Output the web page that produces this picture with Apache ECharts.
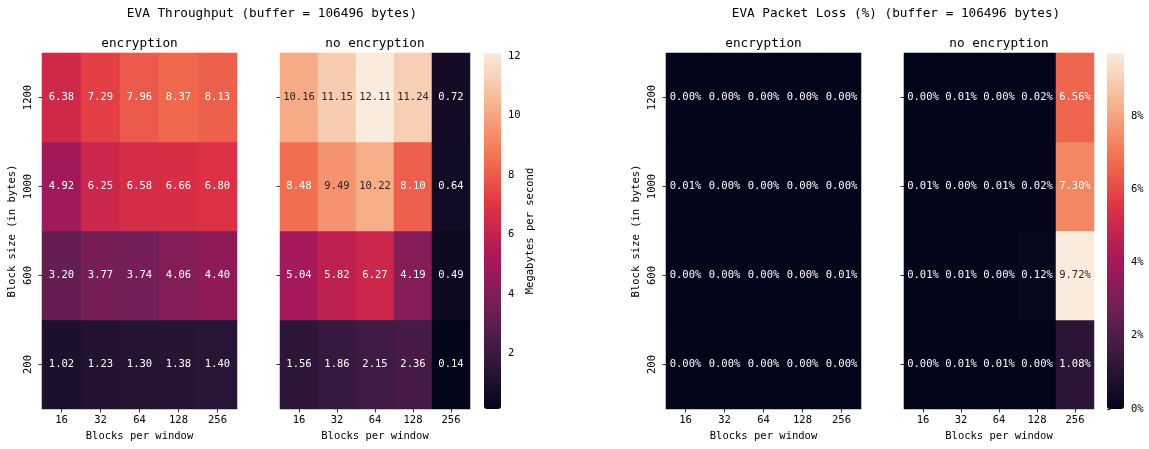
<!DOCTYPE html>
<html><head><meta charset="utf-8">
<script src="https://cdn.jsdelivr.net/npm/echarts@6/dist/echarts.min.js"></script>
<style>html,body{margin:0;padding:0;background:#fff}#c{width:1149px;height:449px}</style>
</head><body><div id="c"></div>
<script>
// ---------- data ----------
const blocksPerWindow = ['16', '32', '64', '128', '256'];
const blockSizes = ['200', '600', '1000', '1200'];   // bottom -> top
// rows follow blockSizes order (200, 600, 1000, 1200)
const throughputEnc = [
  [1.02, 1.23, 1.30, 1.38, 1.40],
  [3.20, 3.77, 3.74, 4.06, 4.40],
  [4.92, 6.25, 6.58, 6.66, 6.80],
  [6.38, 7.29, 7.96, 8.37, 8.13]
];
const throughputNoEnc = [
  [1.56, 1.86, 2.15, 2.36, 0.14],
  [5.04, 5.82, 6.27, 4.19, 0.49],
  [8.48, 9.49, 10.22, 8.10, 0.64],
  [10.16, 11.15, 12.11, 11.24, 0.72]
];
const lossEnc = [
  [0.00, 0.00, 0.00, 0.00, 0.00],
  [0.00, 0.00, 0.00, 0.00, 0.01],
  [0.01, 0.00, 0.00, 0.00, 0.00],
  [0.00, 0.00, 0.00, 0.00, 0.00]
];
const lossNoEnc = [
  [0.00, 0.01, 0.01, 0.00, 1.08],
  [0.01, 0.01, 0.00, 0.12, 9.72],
  [0.01, 0.00, 0.01, 0.02, 7.30],
  [0.00, 0.01, 0.00, 0.02, 6.56]
];
const throughputTicks = [2, 4, 6, 8, 10, 12];
const lossTicks = [0, 2, 4, 6, 8];
const throughputRange = [0.14, 12.11];
const lossRange = [0, 9.72];
const rocket = ['#03051a', '#35193e', '#701f57', '#ad1759', '#e13342', '#f37651', '#f6b48f', '#faebdd'];

// ---------- chart ----------
const F = 'DejaVu Sans Mono';
const FS = 10.5;
const TXT = '#000';

function cells(rows, range) {
  const out = [];
  rows.forEach((row, yi) => row.forEach((v, xi) => {
    const n = (v - range[0]) / (range[1] - range[0]);
    out.push({
      value: [xi, yi, v],
      label: { color: n >= 0.76 ? '#262626' : '#ffffff' }
    });
  }));
  return out;
}

const grids = [
  { left: 42, top: 53, width: 195, height: 356 },
  { left: 280, top: 53, width: 190, height: 356 },
  { left: 666, top: 53, width: 195, height: 356 },
  { left: 904, top: 53, width: 190, height: 356 },
  { left: 484, top: 53, width: 17, height: 356 },
  { left: 1107, top: 53, width: 17, height: 356 }
];

function xAx(gi) {
  return {
    type: 'category', gridIndex: gi, data: blocksPerWindow,
    axisLine: { show: false },
    axisTick: { show: true, alignWithLabel: true, length: 3.5, lineStyle: { color: TXT, width: 0.8 } },
    axisLabel: { margin: 6, fontFamily: F, fontSize: FS, color: TXT },
    splitLine: { show: false },
    name: 'Blocks per window', nameLocation: 'middle', nameGap: 21,
    nameTextStyle: { fontFamily: F, fontSize: FS, color: TXT }
  };
}
function yAx(gi, withLabels) {
  const a = {
    type: 'category', gridIndex: gi, data: blockSizes,
    axisLine: { show: false },
    axisTick: { show: true, alignWithLabel: true, length: 3.5, lineStyle: { color: TXT, width: 0.8 } },
    axisLabel: { show: withLabels, rotate: 90, margin: 8, fontFamily: F, fontSize: FS, color: TXT },
    splitLine: { show: false }
  };
  if (withLabels) {
    a.name = 'Block size (in bytes)';
    a.nameLocation = 'middle';
    a.nameGap = 24;
    a.nameRotate = 90;
    a.nameTextStyle = { fontFamily: F, fontSize: FS, color: TXT };
  }
  return a;
}
function cbAxis(gi, range, ticks, fmt, name) {
  const a = {
    type: 'value', gridIndex: gi, position: 'right', min: range[0], max: range[1],
    axisLine: { show: false },
    axisTick: { show: true, length: 3.5, customValues: ticks, lineStyle: { color: TXT, width: 0.8 } },
    axisLabel: { show: true, customValues: ticks, margin: 7, fontFamily: F, fontSize: FS, color: TXT, formatter: fmt },
    splitLine: { show: false }
  };
  if (name) {
    a.name = name; a.nameLocation = 'middle'; a.nameGap = 24; a.nameRotate = 90;
    a.nameTextStyle = { fontFamily: F, fontSize: FS, color: TXT };
  }
  return a;
}
function hm(xi, rows, range, pct) {
  return {
    type: 'heatmap', xAxisIndex: xi, yAxisIndex: xi,
    data: cells(rows, range),
    itemStyle: { borderWidth: 0 },
    emphasis: { disabled: true },
    label: {
      show: true, fontFamily: F, fontSize: FS,
      formatter: p => p.value[2].toFixed(2) + (pct ? '%' : '')
    }
  };
}
function title(text, x, y, size) {
  return {
    text, left: x, top: y, textAlign: 'center', padding: 0,
    textStyle: { fontFamily: F, fontSize: size, fontWeight: 'normal', color: TXT }
  };
}

const option = {
  backgroundColor: '#fff',
  animation: false,
  title: [
    title('EVA Throughput (buffer = 106496 bytes)', 272, 7, 12.7),
    title('EVA Packet Loss (%) (buffer = 106496 bytes)', 896, 7, 12.7),
    title('encryption', 139.5, 37, 12.7),
    title('no encryption', 375, 37, 12.7),
    title('encryption', 763.5, 37, 12.7),
    title('no encryption', 999, 37, 12.7)
  ],
  grid: grids,
  xAxis: [xAx(0), xAx(1), xAx(2), xAx(3),
    { type: 'value', gridIndex: 4, show: false },
    { type: 'value', gridIndex: 5, show: false }],
  yAxis: [yAx(0, true), yAx(1, false), yAx(2, true), yAx(3, false),
    cbAxis(4, throughputRange, throughputTicks, v => String(v), 'Megabytes per second'),
    cbAxis(5, lossRange, lossTicks, v => v + '%', null)],
  visualMap: [
    {
      type: 'continuous', seriesIndex: [0, 1], min: throughputRange[0], max: throughputRange[1],
      calculable: false, hoverLink: false, left: 484, top: 53, itemWidth: 17, itemHeight: 356,
      padding: 0, text: null, showLabel: false, inRange: { color: rocket }
    },
    {
      type: 'continuous', seriesIndex: [2, 3], min: lossRange[0], max: lossRange[1],
      calculable: false, hoverLink: false, left: 1107, top: 53, itemWidth: 17, itemHeight: 356,
      padding: 0, text: null, showLabel: false, inRange: { color: rocket }
    }
  ],
  series: [
    hm(0, throughputEnc, throughputRange, false),
    hm(1, throughputNoEnc, throughputRange, false),
    hm(2, lossEnc, lossRange, true),
    hm(3, lossNoEnc, lossRange, true)
  ]
};
echarts.init(document.getElementById('c'), null, { renderer: 'canvas' }).setOption(option);
</script>
</body></html>
